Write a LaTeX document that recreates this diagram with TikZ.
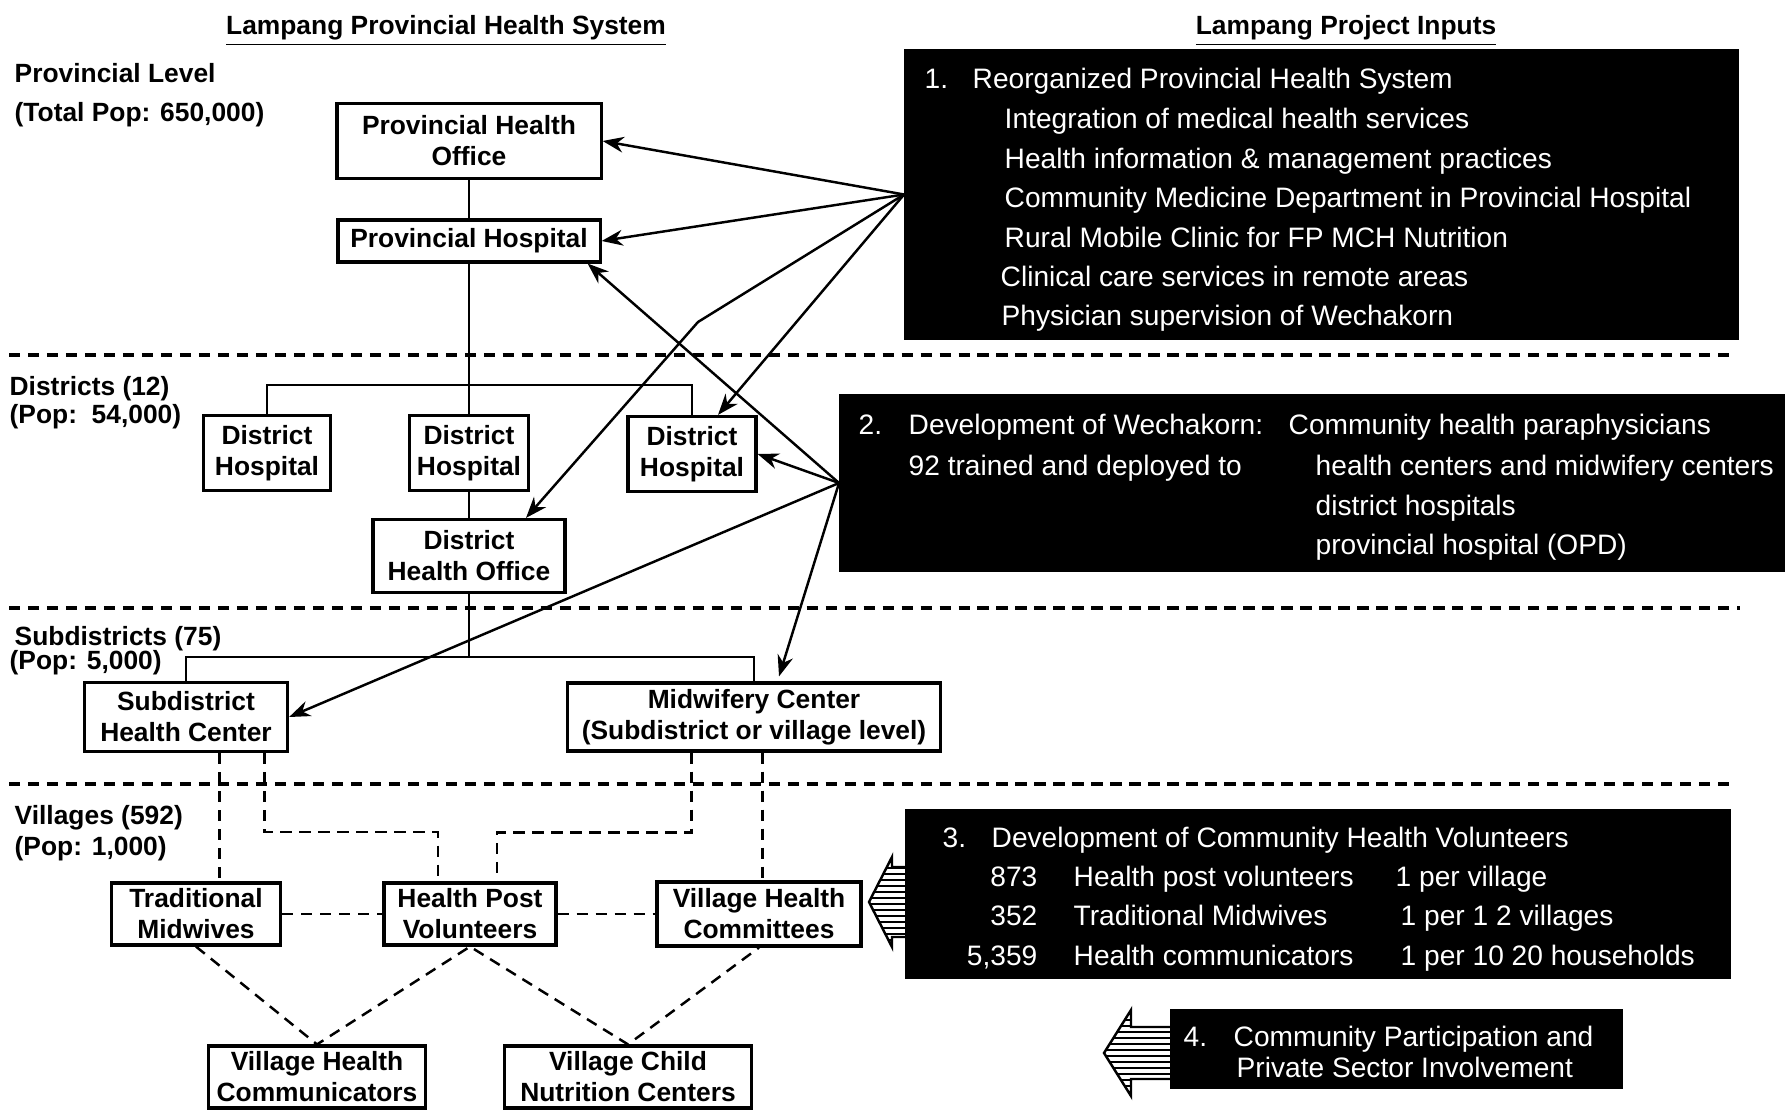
\documentclass[tikz,border=0pt]{standalone}
\usepackage{fontspec}
\setmainfont{Liberation Sans}
\usetikzlibrary{arrows.meta}

\tikzset{
  unit/.style={draw, line width=0.9pt, align=center, inner sep=0pt,
    font=\bfseries\fontsize{7.5}{8.8}\selectfont},
  level/.style={anchor=west, inner sep=0pt, text height=1.6ex, text depth=0.4ex,
    font=\bfseries\fontsize{7.5}{9}\selectfont},
  inputbox/.style={fill=black, draw=black, inner sep=0pt},
  inputtext/.style={anchor=west, inner sep=0pt, text=white, text height=1.6ex,
    text depth=0.4ex, font=\fontsize{8}{9.6}\selectfont},
  tree/.style={line width=0.6pt},
  feed/.style={-{Stealth[length=6pt,width=4.5pt]}, line width=0.7pt},
  link/.style={line width=0.7pt, dash pattern=on 3.2pt off 2.2pt},
  border/.style={line width=0.9pt, dash pattern=on 3.2pt off 2.2pt},
  stripe/.style={line width=0.5pt}
}

\begin{document}
\begin{tikzpicture}[x=0.01cm, y=-0.01cm]
\useasboundingbox (0,0) rectangle (1785,1110);

% headings
\node[level, anchor=center] (lefthead) at (446,23) {\underline{Lampang Provincial Health System}};
\node[level, anchor=center] (righthead) at (1346,23) {\underline{Lampang Project Inputs}};

% level labels
\node[level] (lv1) at (14,71) {Provincial Level};
\node[level] (lv1p) at (14,110) {(Total Pop: 650,000)};
\node[level] (lv2) at (9,384) {Districts (12)};
\node[level] (lv2p) at (9,412) {(Pop:\ \ 54,000)};
\node[level] (lv3) at (14,634) {Subdistricts (75)};
\node[level] (lv3p) at (9,658) {(Pop: 5,000)};
\node[level] (lv4) at (14,813) {Villages (592)};
\node[level] (lv4p) at (14,844) {(Pop: 1,000)};

% level separators
\draw[border] (9,355) -- (1733,355);
\draw[border] (9,608) -- (1740,608);
\draw[border] (9,784) -- (1733,784);

% health system units
\node[unit, minimum width=2.64cm, minimum height=0.75cm] (pho) at (469,141) {Provincial Health\\Office};
\node[unit, minimum width=2.62cm, minimum height=0.42cm] (ph) at (469,241) {Provincial Hospital};
\node[unit, minimum width=1.27cm, minimum height=0.75cm] (dh1) at (267,453) {District\\Hospital};
\node[unit, minimum width=1.19cm, minimum height=0.75cm] (dh2) at (469,453) {District\\Hospital};
\node[unit, minimum width=1.28cm, minimum height=0.75cm] (dh3) at (692,454) {District\\Hospital};
\node[unit, minimum width=1.92cm, minimum height=0.73cm] (dho) at (469,556) {District\\Health Office};
\node[unit, minimum width=2.03cm, minimum height=0.69cm] (shc) at (186,717) {Subdistrict\\Health Center};
\node[unit, minimum width=3.73cm, minimum height=0.68cm] (mc) at (754,717) {Midwifery Center\\(Subdistrict or village level)};
\node[unit, minimum width=1.69cm, minimum height=0.62cm] (tm) at (196,914) {Traditional\\Midwives};
\node[unit, minimum width=1.72cm, minimum height=0.62cm] (hpv) at (470,914) {Health Post\\Volunteers};
\node[unit, minimum width=2.04cm, minimum height=0.64cm] (vhc) at (759,914) {Village Health\\Committees};
\node[unit, minimum width=2.17cm, minimum height=0.62cm] (vhco) at (317,1077) {Village Health\\Communicators};
\node[unit, minimum width=2.47cm, minimum height=0.62cm] (vcnc) at (628,1077) {Village Child\\Nutrition Centers};

% solid lines of the system
\coordinate (dbar) at (469,385);
\coordinate (sbar) at (469,657);
\draw[tree] (pho) -- (ph);
\draw[tree] (ph.south) -- (dh2.north);
\draw[tree] (dh1.north) |- (dbar) -| (dh3.north);
\draw[tree] (dh2.south) -- (dho.north);
\draw[tree] (dho.south) -- (sbar);
\draw[tree] (shc.north) |- (sbar) -| (mc.north);

% dashed lines at village level
\coordinate (shcl) at ([xshift=3.35mm]shc.south);
\coordinate (shcr) at ([xshift=7.85mm]shc.south);
\coordinate (mcl) at ([xshift=-6.25mm]mc.south);
\coordinate (mcr) at ([xshift=0.85mm]mc.south);
\coordinate (hpvl) at ([xshift=-3.2mm]hpv.north);
\coordinate (hpvr) at ([xshift=2.7mm]hpv.north);
\draw[link] (shcl) -- (shcl |- tm.north);
\draw[link] (shcr) -- ++(0,79) -| (hpvl);
\draw[link] (mcl) -- ++(0,80) -| (hpvr);
\draw[link] (mcr) -- (mcr |- vhc.north);
\draw[link] (tm) -- (hpv);
\draw[link] (hpv) -- (vhc);
\draw[link] (tm.south) -- (vhco.north) -- (hpv.south) -- (vcnc.north) -- (vhc.south);

% project inputs
\node[inputbox, minimum width=8.33cm, minimum height=2.89cm] (b1) at (1321.5,194.5) {};
\node[inputbox, minimum width=9.5cm, minimum height=1.76cm] (b2) at (1315,483) {};
\node[inputbox, minimum width=8.24cm, minimum height=1.68cm] (b3) at (1318,894) {};
\node[inputbox, minimum width=4.51cm, minimum height=0.78cm] (b4) at (1396.5,1049) {};

\node[inputtext] (b1n) at (924,77) {1.};
\node[inputtext] (b1t) at (972,77) {Reorganized Provincial Health System};
\node[inputtext] (b1a) at (1004,117) {Integration of medical health services};
\node[inputtext] (b1b) at (1004,157) {Health information \& management practices};
\node[inputtext] (b1c) at (1004,196) {Community Medicine Department in Provincial Hospital};
\node[inputtext] (b1d) at (1004,236) {Rural Mobile Clinic for FP MCH Nutrition};
\node[inputtext] (b1e) at (1000,275) {Clinical care services in remote areas};
\node[inputtext] (b1f) at (1001,314) {Physician supervision of Wechakorn};

\node[inputtext] (b2n) at (858,423) {2.};
\node[inputtext] (b2t) at (908,423) {Development of Wechakorn:};
\node[inputtext] (b2u) at (1288,423) {Community health paraphysicians};
\node[inputtext] (b2a) at (908,464) {92 trained and deployed to};
\node[inputtext] (b2b) at (1315,464) {health centers and midwifery centers};
\node[inputtext] (b2c) at (1315,504) {district hospitals};
\node[inputtext] (b2d) at (1315,543) {provincial hospital (OPD)};

\node[inputtext] (b3n) at (942,836) {3.};
\node[inputtext] (b3t) at (991,836) {Development of Community Health Volunteers};
\node[inputtext, anchor=east] (b3an) at (1038,875) {873};
\node[inputtext] (b3a) at (1073,875) {Health post volunteers};
\node[inputtext] (b3ar) at (1395,875) {1 per village};
\node[inputtext, anchor=east] (b3bn) at (1038,914) {352};
\node[inputtext] (b3b) at (1073,914) {Traditional Midwives};
\node[inputtext] (b3br) at (1400,914) {1 per 1 2 villages};
\node[inputtext, anchor=east] (b3cn) at (1038,954) {5,359};
\node[inputtext] (b3c) at (1073,954) {Health communicators};
\node[inputtext] (b3cr) at (1400,954) {1 per 10 20 households};

\node[inputtext] (b4n) at (1183,1035) {4.};
\node[inputtext] (b4t) at (1233,1035) {Community Participation and};
\node[inputtext] (b4u) at (1236,1066) {Private Sector Involvement};

% arrows from the inputs
\coordinate (bend) at (698,322);
\draw[feed] (b1.west) -- (pho.east);
\draw[feed] (b1.west) -- (ph.east);
\draw[feed] (b1.west) -- ([xshift=2.6mm]dh3.north);
\draw[feed] (b1.west) -- (bend) -- ([xshift=5.7mm]dho.north);
\draw[feed] (b2.west) -- ([xshift=-1.4mm]ph.south east);
\draw[feed] (b2.west) -- (dh3.east);
\draw[feed] (b2.west) -- (shc.east);
\draw[feed] (b2.west) -- ([xshift=2.5mm,yshift=0.5mm]mc.north);

% striped block arrows
\draw[line width=0.7pt] (906,867) -- (892,867) -- (892,857) -- (869,902) -- (892,947) -- (892,937) -- (906,937);
\begin{scope}
  \clip (906,867) -- (892,867) -- (892,857) -- (869,902) -- (892,947) -- (892,937) -- (906,937) -- cycle;
  \foreach \y in {856,862,...,950} \draw[stripe] (860,\y) -- (910,\y);
\end{scope}
\draw[line width=0.7pt] (1171,1027) -- (1131,1027) -- (1131,1010) -- (1104,1053) -- (1131,1096) -- (1131,1079) -- (1171,1079);
\begin{scope}
  \clip (1171,1027) -- (1131,1027) -- (1131,1010) -- (1104,1053) -- (1131,1096) -- (1131,1079) -- (1171,1079) -- cycle;
  \foreach \y in {1008,1014,...,1100} \draw[stripe] (1100,\y) -- (1175,\y);
\end{scope}

\end{tikzpicture}
\end{document}
